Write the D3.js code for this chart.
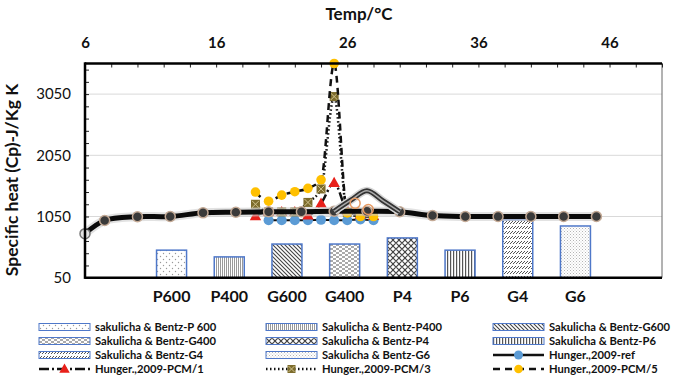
<!DOCTYPE html>
<html>
<head>
<meta charset="utf-8">
<script src="https://cdn.jsdelivr.net/npm/d3@7"></script>
<style>
  body { margin: 0; background: #fff; }
  svg text { font-family: Lato, "Open Sans", sans-serif; fill: #111; }
  .ylab text { font-size: 15px; }
  .xtop text { font-size: 15px; font-weight: bold; }
  .xcat text { font-size: 16px; font-weight: bold; }
  .legend text { font-size: 11.2px; font-weight: bold; }
</style>
</head>
<body>
<div id="chart"></div>
<script>
// bars (Sakulicha & Bentz), left axis
var barCats = ["P600", "P400", "G600", "G400", "P4", "P6", "G4", "G6"];
var barCp = [500, 390, 600, 600, 700, 500, 995, 895];
var barNames = ["sakulicha & Bentz-P 600", "Sakulicha & Bentz-P400", "Sakulicha & Bentz-G600",
  "Sakulicha & Bentz-G400", "Sakulicha & Bentz-P4", "Sakulicha & Bentz-P6",
  "Sakulicha & Bentz-G4", "Sakulicha & Bentz-G6"];

// smoothed concrete curve (thick black)
var trendTemp = [6, 7.5, 10, 12.5, 15, 17.5, 20, 22.5, 25, 27.5, 30, 32.5, 35, 37.5, 40, 42.5, 45];
var trendCp = [770, 985, 1046, 1050, 1110, 1120, 1127, 1127, 1135, 1135, 1127, 1065, 1050, 1050, 1050, 1050, 1050];

// grey hump over the curve
var humpTemp = [25, 26.3, 27.5, 28.7, 30];
var humpCp = [1135, 1320, 1470, 1310, 1127];

// Hunger 2009
var refTemp = [20, 21, 22, 23, 24, 25, 26, 27, 28];
var refCp = [990, 990, 990, 990, 995, 990, 990, 1000, 990];
var pcm1Temp = [19, 20, 21, 22, 23, 24, 25, 26, 27, 28];
var pcm1Cp = [1057, 1125, 1125, 1125, 1068, 1264, 1600, 1150, 1080, 1060];
var pcm3Temp = [19, 20, 21, 22, 23, 24, 25, 26, 27, 28];
var pcm3Cp = [1250, 1125, 1125, 1125, 1280, 1500, 3010, 1120, 1080, 1070];
var pcm5Temp = [19, 20, 21, 22, 23, 24, 25, 26, 27, 28];
var pcm5Cp = [1450, 1300, 1400, 1455, 1510, 1650, 3550, 1110, 1050, 1050];

// orange rings near the hump
var ringTemp = [26.6, 27.6];
var ringCp = [1265, 1165];

var yTicks = [50, 1050, 2050, 3050];
var xTicks = [6, 16, 26, 36, 46];

var viewboxwidth = 682, viewboxheight = 383;
var plot = {left: 85, right: 662, top: 63.5, bottom: 277.7};

var svg = d3.select("#chart")
    .append("svg")
    .attr("width", viewboxwidth)
    .attr("height", viewboxheight);

var x = d3.scaleLinear().domain([6, 50]).range([plot.left, plot.right]);
var y = d3.scaleLinear().domain([50, 3550]).range([plot.bottom, plot.top]);
var bandKeys = ["_a"].concat(barCats, ["_b"]);
var xb = d3.scaleBand().domain(bandKeys).range([plot.left, plot.right])
    .paddingInner(0.48).paddingOuter(0.24);

// ---- patterns
var defs = svg.append("defs");
function pat(id, w, h, draw) {
  var p = defs.append("pattern").attr("id", id).attr("patternUnits", "userSpaceOnUse")
      .attr("width", w).attr("height", h);
  p.append("rect").attr("width", w).attr("height", h).attr("fill", "#fff");
  draw(p);
}
pat("p0", 6, 6, function(p) {
  p.append("circle").attr("cx", 1.5).attr("cy", 1.5).attr("r", 0.7).attr("fill", "#999");
  p.append("circle").attr("cx", 4.5).attr("cy", 4.5).attr("r", 0.7).attr("fill", "#999");
});
pat("p1", 2, 2, function(p) {
  p.append("rect").attr("width", 1).attr("height", 2).attr("fill", "#9a9a9a");
});
pat("p2", 4, 4, function(p) {
  p.append("path").attr("d", "M-1,-1L5,5M-1,3L1,5M3,-1L5,1").attr("stroke", "#444").attr("stroke-width", 1.1);
});
pat("p3", 6, 4, function(p) {
  p.append("path").attr("d", "M0,1H3M3,3H6").attr("stroke", "#555").attr("stroke-width", 1.1);
});
pat("p4", 6, 6, function(p) {
  p.append("path").attr("d", "M0,3L3,0L6,3L3,6Z").attr("fill", "none").attr("stroke", "#444").attr("stroke-width", 1.1);
});
pat("p5", 3, 3, function(p) {
  p.append("rect").attr("width", 1.2).attr("height", 3).attr("fill", "#555");
});
pat("p6", 6, 5, function(p) {
  p.append("path").attr("d", "M0,4L3,1").attr("stroke", "#555").attr("stroke-width", 1);
  p.append("path").attr("d", "M3,4L6,1").attr("stroke", "#555").attr("stroke-width", 1);
});
pat("p7", 3, 3, function(p) {
  p.append("rect").attr("x", 0).attr("y", 0).attr("width", 1).attr("height", 1).attr("fill", "#b5b5b5");
  p.append("rect").attr("x", 1.5).attr("y", 1.5).attr("width", 1).attr("height", 1).attr("fill", "#c8c8c8");
});

// ---- gridlines
svg.append("g").selectAll("line").data(yTicks.slice(1)).enter().append("line")
    .attr("x1", plot.left).attr("x2", plot.right)
    .attr("y1", function(d) { return y(d); }).attr("y2", function(d) { return y(d); })
    .attr("stroke", "#d9d9d9").attr("stroke-width", 1);

// ---- bars
svg.append("g").selectAll("rect").data(barCats).enter().append("rect")
    .attr("x", function(d) { return xb(d); })
    .attr("width", xb.bandwidth())
    .attr("y", function(d, i) { return y(barCp[i]); })
    .attr("height", function(d, i) { return y(50) - y(barCp[i]); })
    .attr("fill", function(d, i) { return "url(#p" + i + ")"; })
    .attr("stroke", "#4f78c9").attr("stroke-width", 1.5);

// ---- lines
function pts(t, c) { return t.map(function(d, i) { return [d, c[i]]; }); }
var lineGen = d3.line().x(function(d) { return x(d[0]); }).y(function(d) { return y(d[1]); });

// ref
svg.append("path").datum(pts(refTemp, refCp))
    .attr("d", lineGen.curve(d3.curveMonotoneX)).attr("fill", "none")
    .attr("stroke", "#111").attr("stroke-width", 2);
svg.append("g").selectAll("circle").data(pts(refTemp, refCp)).enter().append("circle")
    .attr("cx", function(d) { return x(d[0]); }).attr("cy", function(d) { return y(d[1]); })
    .attr("r", 5).attr("fill", "#5b9bd5");

function tri(s) { return "M0," + (-s) + "L" + (s * 0.95) + "," + (s * 0.7) + "L" + (-s * 0.95) + "," + (s * 0.7) + "Z"; }

// PCM/1
svg.append("path").datum(pts(pcm1Temp, pcm1Cp))
    .attr("d", lineGen.curve(d3.curveMonotoneX)).attr("fill", "none")
    .attr("stroke", "#111").attr("stroke-width", 2.5).attr("stroke-dasharray", "10,3,2,3");
svg.append("g").selectAll("path").data(pts(pcm1Temp, pcm1Cp)).enter().append("path")
    .attr("transform", function(d) { return "translate(" + x(d[0]) + "," + y(d[1]) + ")"; })
    .attr("d", tri(6)).attr("fill", "#e8201a");

// PCM/3
svg.append("path").datum(pts(pcm3Temp, pcm3Cp))
    .attr("d", lineGen.curve(d3.curveMonotoneX)).attr("fill", "none")
    .attr("stroke", "#111").attr("stroke-width", 2.5).attr("stroke-dasharray", "1.5,2.5");
var sq = svg.append("g").selectAll("g").data(pts(pcm3Temp, pcm3Cp)).enter().append("g")
    .attr("transform", function(d) { return "translate(" + x(d[0]) + "," + y(d[1]) + ")"; });
sq.append("rect").attr("x", -4.5).attr("y", -4.5).attr("width", 9).attr("height", 9).attr("fill", "#7d6c2c");
sq.append("path").attr("d", "M-3.5,-3.5L3.5,3.5M3.5,-3.5L-3.5,3.5").attr("stroke", "#cfc28e").attr("stroke-width", 1);

// PCM/5
svg.append("path").datum(pts(pcm5Temp, pcm5Cp))
    .attr("d", lineGen.curve(d3.curveMonotoneX)).attr("fill", "none")
    .attr("stroke", "#111").attr("stroke-width", 2.5).attr("stroke-dasharray", "7,5");
svg.append("g").selectAll("circle").data(pts(pcm5Temp, pcm5Cp)).enter().append("circle")
    .attr("cx", function(d) { return x(d[0]); }).attr("cy", function(d) { return y(d[1]); })
    .attr("r", 4.8).attr("fill", "#ffc000");

// thick curve with glow
var trendPts = pts(trendTemp, trendCp);
svg.append("path").datum(trendPts)
    .attr("d", lineGen.curve(d3.curveCatmullRom)).attr("fill", "none")
    .attr("stroke", "#cfcfcf").attr("stroke-width", 9).attr("stroke-opacity", 0.6);
svg.append("path").datum(trendPts)
    .attr("d", lineGen.curve(d3.curveCatmullRom)).attr("fill", "none")
    .attr("stroke", "#0a0a0a").attr("stroke-width", 5);
svg.append("g").selectAll("circle").data(trendPts).enter().append("circle")
    .attr("cx", function(d) { return x(d[0]); }).attr("cy", function(d) { return y(d[1]); })
    .attr("r", 5)
    .attr("fill", function(d, i) { return i === 0 ? "#e4e4e4" : "#3a3a3a"; })
    .attr("stroke", function(d, i) { return i === 0 ? "#777" : "#c4aa96"; })
    .attr("stroke-width", 1.5);

// hump
var humpPts = pts(humpTemp, humpCp);
svg.append("path").datum(humpPts)
    .attr("d", lineGen.curve(d3.curveCatmullRom)).attr("fill", "none")
    .attr("stroke", "#d6d6d6").attr("stroke-width", 8);
svg.append("path").datum(humpPts)
    .attr("d", lineGen.curve(d3.curveCatmullRom)).attr("fill", "none")
    .attr("stroke", "#333").attr("stroke-width", 5);
svg.append("path").datum(humpPts)
    .attr("d", lineGen.curve(d3.curveCatmullRom)).attr("fill", "none")
    .attr("stroke", "#aaa").attr("stroke-width", 1.5);

svg.append("g").selectAll("circle").data(pts(ringTemp, ringCp)).enter().append("circle")
    .attr("cx", function(d) { return x(d[0]); }).attr("cy", function(d) { return y(d[1]); })
    .attr("r", 5).attr("fill", "none").attr("stroke", "#e69a63").attr("stroke-width", 1.5);

// ---- axes
svg.append("line").attr("x1", plot.right).attr("x2", plot.right)
    .attr("y1", plot.top).attr("y2", plot.bottom).attr("stroke", "#666").attr("stroke-width", 1);

var yl = svg.append("g").attr("class", "ylab")
    .attr("transform", "translate(" + plot.left + ",0)")
    .call(d3.axisLeft(y).tickValues(yTicks).tickSize(0).tickPadding(14).tickFormat(d3.format("d")));
yl.select(".domain").remove();
svg.append("g").attr("transform", "translate(" + plot.left + ",0)")
    .call(d3.axisRight(y).tickValues(d3.range(50, 3551, 200)).tickSize(4).tickFormat(""))
    .call(function(g) { g.select(".domain").remove(); g.selectAll("line").attr("stroke", "#222").attr("stroke-width", 1); });

var xt = svg.append("g").attr("class", "xtop")
    .attr("transform", "translate(0," + plot.top + ")")
    .call(d3.axisTop(x).tickValues(xTicks).tickSize(0).tickPadding(16));
xt.select(".domain").remove();
svg.append("g").attr("transform", "translate(0," + plot.top + ")")
    .call(d3.axisBottom(x).tickValues(d3.range(6, 51, 2)).tickSize(4).tickFormat(""))
    .call(function(g) { g.select(".domain").remove(); g.selectAll("line").attr("stroke", "#222").attr("stroke-width", 1); });

var xc = svg.append("g").attr("class", "xcat")
    .attr("transform", "translate(0," + plot.bottom + ")")
    .call(d3.axisBottom(xb).tickSize(0).tickPadding(13)
      .tickFormat(function(d) { return d.charAt(0) === "_" ? "" : d; }));
xc.select(".domain").remove();

svg.append("line").attr("x1", plot.left).attr("x2", plot.right)
    .attr("y1", plot.top).attr("y2", plot.top).attr("stroke", "#000").attr("stroke-width", 2.5);
svg.append("line").attr("x1", plot.left).attr("x2", plot.right)
    .attr("y1", plot.bottom).attr("y2", plot.bottom).attr("stroke", "#000").attr("stroke-width", 2.5);
svg.append("line").attr("x1", plot.left).attr("x2", plot.left)
    .attr("y1", plot.top - 1.2).attr("y2", plot.bottom + 1.2).attr("stroke", "#000").attr("stroke-width", 2.5);

// titles
svg.append("text").attr("x", 359).attr("y", 20).attr("text-anchor", "middle")
    .style("font-size", "17px").style("font-weight", "bold").text("Temp/°C");
svg.append("text").attr("transform", "translate(18,180) rotate(-90)").attr("text-anchor", "middle")
    .style("font-size", "17.5px").style("font-weight", "bold").text("Specific heat (Cp)-J/Kg K");

// ---- legend
var lineNames = ["Hunger.,2009-ref", "Hunger.,2009-PCM/1", "Hunger.,2009-PCM/3", "Hunger.,2009-PCM/5"];
var legCols = [39, 266, 493];
var legRows = [327, 341, 355, 369];
var leg = svg.append("g").attr("class", "legend");
var items = barNames.map(function(n, i) { return {name: n, bar: i}; })
    .concat(lineNames.map(function(n, i) { return {name: n, line: i}; }));
items.forEach(function(it, k) {
  var lx = legCols[k % 3], ly = legRows[Math.floor(k / 3)];
  var g = leg.append("g").attr("transform", "translate(" + lx + "," + ly + ")");
  if (it.bar !== undefined) {
    g.append("rect").attr("x", 0).attr("y", -3.5).attr("width", 51).attr("height", 7)
      .attr("fill", "url(#p" + it.bar + ")").attr("stroke", "#4f78c9").attr("stroke-width", 1);
  } else {
    var dash = [null, "10,3,2,3", "1.5,2.5", "7,5"][it.line];
    g.append("line").attr("x1", 0).attr("x2", 51).attr("y1", 0).attr("y2", 0)
      .attr("stroke", "#111").attr("stroke-width", 2.5).attr("stroke-dasharray", dash);
    var m = g.append("g").attr("transform", "translate(25.5,0)");
    if (it.line === 0) m.append("circle").attr("r", 4.5).attr("fill", "#5b9bd5");
    if (it.line === 1) m.append("path").attr("d", tri(5.5)).attr("fill", "#e8201a");
    if (it.line === 2) {
      m.append("rect").attr("x", -4).attr("y", -4).attr("width", 8).attr("height", 8).attr("fill", "#7d6c2c");
      m.append("path").attr("d", "M-3,-3L3,3M3,-3L-3,3").attr("stroke", "#cfc28e").attr("stroke-width", 1);
    }
    if (it.line === 3) m.append("circle").attr("r", 4.3).attr("fill", "#ffc000");
  }
  g.append("text").attr("x", 56).attr("y", 4).text(it.name);
});
</script>
</body>
</html>
